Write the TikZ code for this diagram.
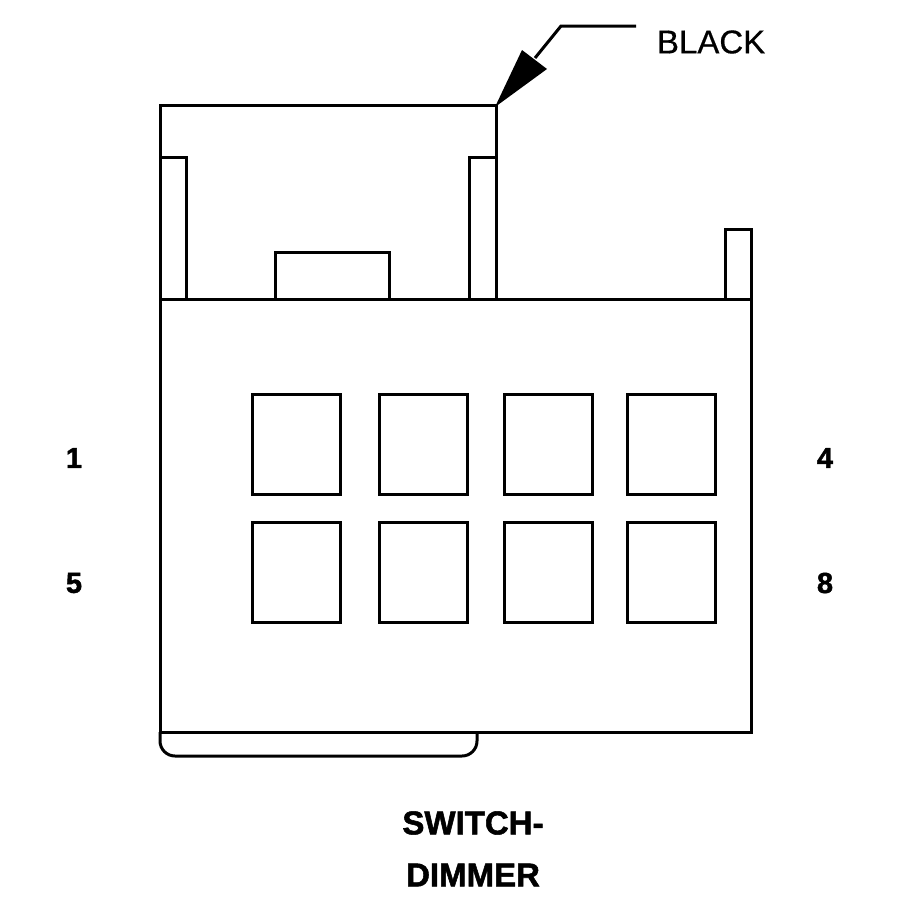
\documentclass[tikz,border=0pt]{standalone}
\usepackage{fontspec}
\setmainfont{Liberation Sans}
\newfontfamily\heavyfont[FakeBold=1.6]{Liberation Sans Bold}
\newfontfamily\calloutfont[FakeBold=0.5]{Liberation Sans}
\begin{document}
\begin{tikzpicture}[x=1pt,y=-1pt,line width=3pt, line join=miter,
  every node/.style={inner sep=0pt, outer sep=0pt},
  cavity/.style={draw, minimum width=88.5pt, minimum height=100pt},
  pin/.style={font=\heavyfont\fontsize{29}{29}\selectfont},
  title/.style={font=\heavyfont\fontsize{33}{33}\selectfont}]
\useasboundingbox (0,0) rectangle (900,900);
% body
\node[draw, minimum width=591.5pt, minimum height=433pt, anchor=north west](body) at (160,299){};
% cavities
\node[cavity, anchor=north west](c1) at (252,394){};
\node[cavity, anchor=north west](c2) at (379,394){};
\node[cavity, anchor=north west](c3) at (504,394){};
\node[cavity, anchor=north west](c4) at (627,394){};
\node[cavity, anchor=north west](c5) at (252,522){};
\node[cavity, anchor=north west](c6) at (379,522){};
\node[cavity, anchor=north west](c7) at (504,522){};
\node[cavity, anchor=north west](c8) at (627,522){};
% top
\draw (160,299) -- (160,105) -- (496.5,105) -- (496.5,299);
\draw (160,157) -- (186.5,157) -- (186.5,299);
\draw (496.5,157) -- (469.5,157) -- (469.5,299);
\draw (275,299) -- (275,252) -- (389,252) -- (389,299);
\draw (725.5,299) -- (725.5,229) -- (751.5,229) -- (751.5,299);
% bottom
\draw[rounded corners=15pt] (160,732) -- (160,756) -- (477,756) -- (477,732);
% labels
\node[pin](n1) at (74,458){1};
\node[pin](n5) at (74,583){5};
\node[pin](n4) at (825,458){4};
\node[pin](n8) at (825,583){8};
\node[title](sw) at (473,823){SWITCH-};
\node[title](dm) at (473,875){DIMMER};
\node[font=\calloutfont\fontsize{33}{33}\selectfont, anchor=west](black) at (657,42){BLACK};
% pointer
\coordinate (tip) at (495,107);
\coordinate (end) at (636,26);
\draw (end) -- (561,26) -- (535,58);
\fill (tip) -- (522,50) -- (547,69) -- cycle;
\end{tikzpicture}
\end{document}
